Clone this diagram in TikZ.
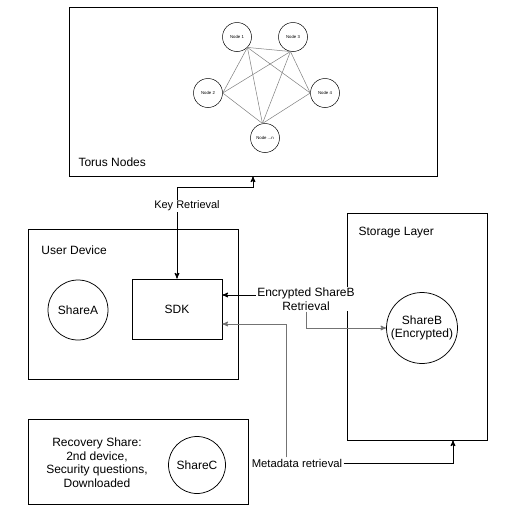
\documentclass[tikz,border=0pt]{standalone}
\usepackage{fontspec}
\setmainfont{Liberation Sans}
\usetikzlibrary{positioning}
\usetikzlibrary{arrows}
\tikzset{box/.style={draw,line width=0.95pt,inner sep=0pt}}
\tikzset{share/.style={draw,circle,line width=0.75pt,inner sep=0pt,align=center}}
\tikzset{tn/.style={draw,circle,line width=0.5pt,minimum size=29pt,inner sep=0pt,font=\fontsize{4.3}{5}\selectfont}}
\tikzset{ed/.style={fill=white,inner sep=1pt,align=center}}
\tikzset{>=stealth'}

\begin{document}
\begin{tikzpicture}[x=1pt,y=-1pt,on grid,font=\fontsize{12}{13.5}\selectfont,line width=1pt]
        \useasboundingbox[fill=white] (0,0) rectangle (520,520);

        \node[box,minimum width=368pt,minimum height=169pt] (torus) at (253,91.5) {};
        \node[anchor=west,inner sep=0pt] (torusl) at (78,162) {Torus Nodes};

        \node[tn] (n1) at (237,37) {Node 1};
        \node[tn,right=56pt of n1] (n3) {Node 3};
        \node[tn,below left=56pt and 29pt of n1] (n2) {Node 2};
        \node[tn,below right=56pt and 32pt of n3] (n4) {Node 4};
        \node[tn,below right=101pt and 28pt of n1] (nn) {Node ...n};

        \foreach \a/\b in {n1.-45/n3.-100, n1.-45/n2.east, n1.-45/n4.west, n1.-45/nn.100,
                n3.-100/n2.east, n3.-100/n4.west, n3.-100/nn.100, n2.east/nn.100, n4.west/nn.100}
            \draw[gray,line width=0.5pt] (\a) -- (\b);

        \node[box,minimum width=210pt,minimum height=150pt] (dev) at (133,304) {};
        \node[anchor=west,inner sep=0pt] (devl) at (41,250) {User Device};
        \node[share,minimum size=60pt] (shareA) at (78,310) {ShareA};
        \node[box,minimum width=90pt,minimum height=60pt] (sdk) at (177,309) {SDK};

        \node[box,minimum width=140pt,minimum height=227pt] (store) at (417,326.5) {};
        \node[anchor=west,inner sep=0pt] (storel) at (358,233) {Storage Layer};
        \node[share,minimum size=71pt] (shareB) at (422,328) {ShareB\\(Encrypted)};

        \node[box,minimum width=220pt,minimum height=85pt] (rec) at (138,461.5) {};
        \node[align=center] (recl) at (97,462.5) {Recovery Share:\\2nd device,\\Security questions,\\Downloaded};
        \node[share,minimum size=57pt] (shareC) at (197,465) {ShareC};

        \coordinate (kr) at (253,187);
        \draw[<->] (sdk.north) |- (kr) -- (torus.south);

        \node[ed,font=\fontsize{11}{13}\selectfont] (keyl) at (187,206) {Key Retrieval};
        \node[ed] (encl) at (306,299) {Encrypted ShareB\\Retrieval};
        \node[ed,font=\fontsize{11.3}{13}\selectfont] (metal) at (297,463) {Metadata retrieval};

        \draw[->] ([yshift=4pt]encl.west) -- ([yshift=4pt]encl.west -| sdk.east);
        \draw[->,black!55] (encl.south) |- (shareB.west);
        \draw[->,black!55] ([xshift=-11pt]metal.north) |- ([yshift=-15pt]sdk.east);
        \draw[->] (metal.east) -| ([xshift=36pt]store.south);
    \end{tikzpicture}
\end{document}
